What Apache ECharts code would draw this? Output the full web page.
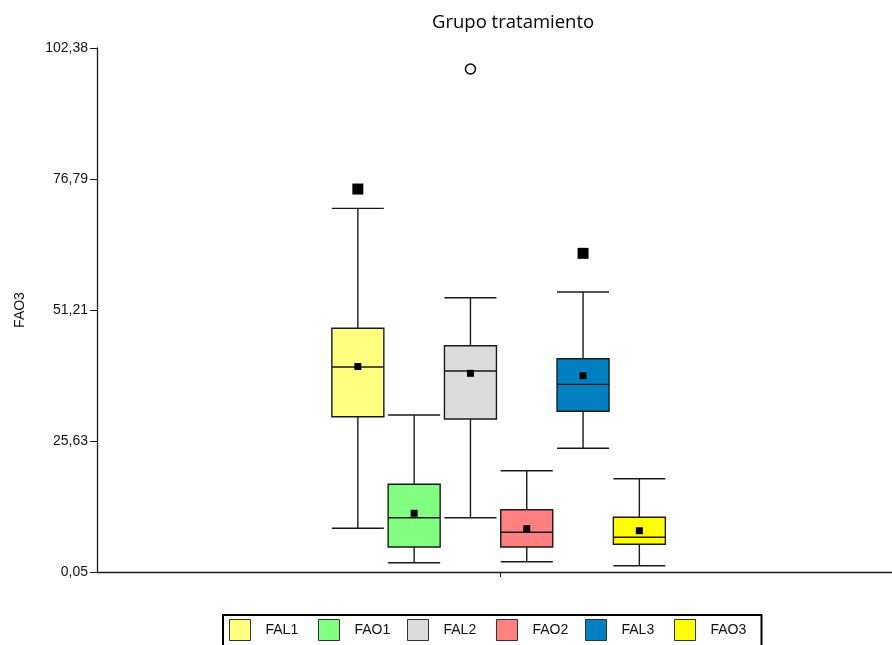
<!DOCTYPE html>
<html>
<head>
<meta charset="utf-8">
<title>Grupo tratamiento</title>
<script src="https://cdn.jsdelivr.net/npm/echarts@6/dist/echarts.min.js"></script>
<style>
  html, body { margin: 0; padding: 0; background: #fff; }
  #chart { width: 892px; height: 645px; }
</style>
</head>
<body>
<div id="chart"></div>
<script>
// Treatment groups and box-plot statistics for FAO3
const groups = ['FAL1', 'FAO1', 'FAL2', 'FAO2', 'FAL3', 'FAO3'];
const whiskerLow  = [8.58, 1.87, 10.65, 2.06, 24.21, 1.28];
const quartile1   = [30.38, 4.93, 29.93, 4.93, 31.43, 5.46];
const medians     = [40.08, 10.65, 39.30, 7.80, 36.70, 6.83];
const quartile3   = [47.64, 17.18, 44.24, 12.22, 41.70, 10.73];
const whiskerHigh = [71.07, 30.71, 53.61, 19.83, 54.73, 18.27];
const means       = [40.18, 11.52, 38.85, 8.50, 38.38, 8.11];
// extreme values (filled squares) and outliers (open circles)
const extremeValues = [74.84, null, null, null, 62.28, null];
const outlierValues = [null, null, 98.27, null, null, null];
// y-axis tick labels
const yTicks = [0.05, 25.63, 51.21, 76.79, 102.38];

const fills = ['#FFFF80', '#80FF80', '#DCDCDC', '#FF8080', '#0080C0', '#FFFF00'];

const WIDTH = 892;
const Y_MIN = yTicks[0], Y_MAX = yTicks[yTicks.length - 1];
const PLOT_TOP = 48, PLOT_BOTTOM = 73, AXIS_X = 97, CENTER_TICK_X = 500;
const GROUP_CENTER = 498.6, GROUP_STEP = 56.3, BOX_W = 52;
const LEGEND_TEXT_W = 40;
const lineColor = '#1a1a1a';
const labelFont = 'Liberation Sans, Arial, sans-serif';

// measure legend labels so every legend entry takes the same width
const measureCtx = document.createElement('canvas').getContext('2d');
measureCtx.font = '14px ' + labelFont;
const textWidth = s => measureCtx.measureText(s).width;

// frame grid: left value axis and bottom axis with a single centred tick
const grids = [{ left: AXIS_X, right: 0, top: PLOT_TOP, bottom: PLOT_BOTTOM }];
const xAxes = [{
  type: 'value', gridIndex: 0, min: 0, max: 1,
  axisLine: { show: true, lineStyle: { color: lineColor, width: 1.3 } },
  axisTick: {
    show: true, length: 5, lineStyle: { color: lineColor, width: 1 },
    customValues: [(CENTER_TICK_X - AXIS_X) / (WIDTH - AXIS_X)]
  },
  axisLabel: { show: false }, splitLine: { show: false }
}];
const yAxes = [{
  type: 'value', gridIndex: 0, min: Y_MIN, max: Y_MAX,
  name: 'FAO3', nameLocation: 'middle', nameGap: 70, nameRotate: 90,
  nameTextStyle: { fontFamily: labelFont, fontSize: 14, color: '#111' },
  axisLine: { show: true, lineStyle: { color: lineColor, width: 1.3 } },
  axisTick: { show: true, length: 7, customValues: yTicks, lineStyle: { color: lineColor, width: 1 } },
  axisLabel: {
    customValues: yTicks, margin: 9, fontFamily: labelFont, fontSize: 14, color: '#111',
    formatter: v => v.toFixed(2).replace('.', ',')
  },
  splitLine: { show: false }
}];
const series = [];

// one small grid per group so every box sits on its own slot
groups.forEach((g, i) => {
  const center = GROUP_CENTER + (i - (groups.length - 1) / 2) * GROUP_STEP;
  const gi = i + 1;
  grids.push({ left: center - GROUP_STEP / 2, width: GROUP_STEP, top: PLOT_TOP, bottom: PLOT_BOTTOM });
  xAxes.push({ type: 'category', gridIndex: gi, data: [g], show: false });
  yAxes.push({ type: 'value', gridIndex: gi, min: Y_MIN, max: Y_MAX, show: false });

  series.push({
    name: g, type: 'boxplot', xAxisIndex: gi, yAxisIndex: gi,
    boxWidth: [BOX_W, BOX_W], silent: true,
    itemStyle: { color: fills[i], borderColor: lineColor, borderWidth: 1.4 },
    emphasis: { disabled: true },
    data: [[whiskerLow[i], quartile1[i], medians[i], quartile3[i], whiskerHigh[i]]]
  });
  series.push({
    name: g + ' media', type: 'scatter', xAxisIndex: gi, yAxisIndex: gi, silent: true,
    symbol: 'rect', symbolSize: 7, itemStyle: { color: '#000', opacity: 1 },
    data: [[0, means[i]]]
  });
  if (extremeValues[i] != null) {
    series.push({
      name: g + ' extremo', type: 'scatter', xAxisIndex: gi, yAxisIndex: gi, silent: true,
      symbol: 'rect', symbolSize: 11, itemStyle: { color: '#000', opacity: 1 },
      data: [[0, extremeValues[i]]]
    });
  }
  if (outlierValues[i] != null) {
    series.push({
      name: g + ' atípico', type: 'scatter', xAxisIndex: gi, yAxisIndex: gi, silent: true,
      symbol: 'circle', symbolSize: 10,
      itemStyle: { color: '#fff', borderColor: '#000', borderWidth: 1.5, opacity: 1 },
      data: [[0, outlierValues[i]]]
    });
  }
});

const chart = echarts.init(document.getElementById('chart'), null, { renderer: 'canvas' });
chart.setOption({
  animation: false,
  backgroundColor: '#fff',
  title: {
    text: 'Grupo tratamiento', left: 427, top: 8,
    textStyle: { fontFamily: 'Open Sans, Noto Sans, sans-serif', fontSize: 18.5, fontWeight: 'normal', color: '#000' }
  },
  legend: {
    data: groups.map((g, i) => ({
      name: g,
      itemStyle: { color: fills[i], borderColor: '#333', borderWidth: 1 },
      textStyle: {
        backgroundColor: 'rgba(255,255,255,0)',
        padding: [0, Math.max(0, LEGEND_TEXT_W - textWidth(g)), 0, 10]
      }
    })),
    left: 223, top: 615, orient: 'horizontal',
    icon: 'rect', itemWidth: 21, itemHeight: 21, itemGap: 12.5,
    padding: [4, 11, 12, 6],
    borderColor: '#000', borderWidth: 2,
    selectedMode: false,
    textStyle: { fontFamily: labelFont, fontSize: 14, color: '#111', padding: [0, 0, 0, 10] }
  },
  grid: grids,
  xAxis: xAxes,
  yAxis: yAxes,
  series: series
});
</script>
</body>
</html>
